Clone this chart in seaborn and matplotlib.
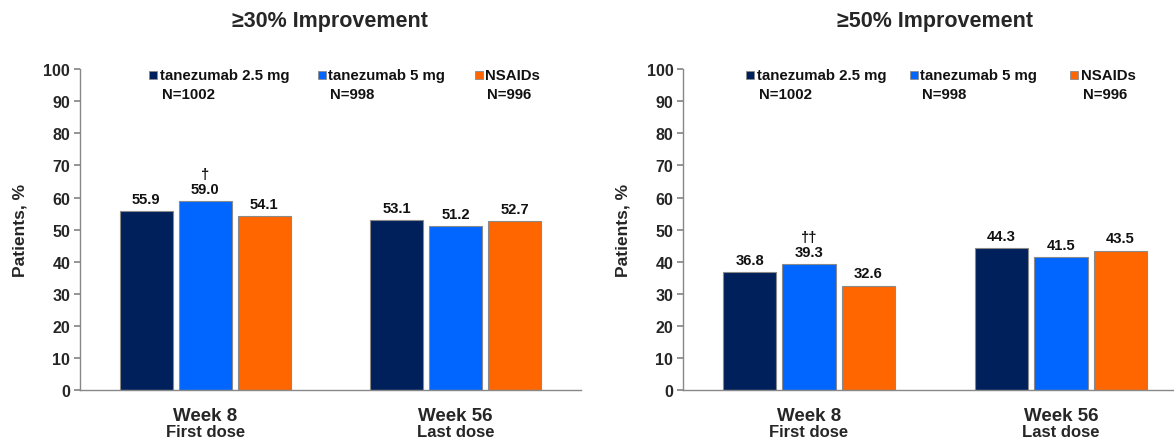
import pandas as pd
import numpy as np
import matplotlib
matplotlib.use('Agg')
import matplotlib.pyplot as plt
from matplotlib.patches import Rectangle
import seaborn as sns

sns.set_theme(style='white')
plt.rcParams['font.family'] = ['Liberation Sans', 'DejaVu Sans']

# data
groups = ['tanezumab 2.5 mg', 'tanezumab 5 mg', 'NSAIDs']
group_n = ['N=1002', 'N=998', 'N=996']
weeks = ['Week 8', 'Week 56']
week_sub = ['First dose', 'Last dose']
pct30 = [[55.9, 53.1], [59.0, 51.2], [54.1, 52.7]]
pct50 = [[36.8, 44.3], [39.3, 41.5], [32.6, 43.5]]
marks30 = [['', ''], ['\u2020', ''], ['', '']]
marks50 = [['', ''], ['\u2020\u2020', ''], ['', '']]
titles = ['\u226530% Improvement', '\u226550% Improvement']
colors = ['#00205B', '#0066FF', '#FF6600']


def make_df(vals):
    rows = []
    for g, gv in zip(groups, vals):
        for w, v in zip(weeks, gv):
            rows.append({'Group': g, 'Week': w, 'Pct': v})
    return pd.DataFrame(rows)


fig = plt.figure(figsize=(11.74, 4.39), dpi=100)
ax1 = fig.add_axes([0.0681, 0.109, 0.4268, 0.7312])
# right panel runs past the right edge, as in the reference crop
ax2 = fig.add_axes([0.5818, 0.109, 0.4293, 0.7312])

# legend x positions (axes fraction) for each panel
leg_x = {ax1: [0.138, 0.475, 0.788], ax2: [0.125, 0.450, 0.768]}

for ax, vals, marks in [(ax1, pct30, marks30), (ax2, pct50, marks50)]:
    df = make_df(vals)
    sns.barplot(data=df, x='Week', y='Pct', hue='Group', order=weeks, hue_order=groups,
                palette=colors, width=0.707, gap=0.1, edgecolor='#8a8a8a', linewidth=0.8,
                saturation=1, legend=False, ax=ax)

    # value labels
    for gi, cont in enumerate(ax.containers):
        for wi, bar in enumerate(cont):
            x = bar.get_x() + bar.get_width() / 2
            h = bar.get_height()
            ax.text(x, h + 1.6, f'{vals[gi][wi]:.1f}', ha='center', va='bottom',
                    fontsize=10.6, fontweight='bold', color='#111111')
            if marks[gi][wi]:
                ax.text(x, h + 6.3, marks[gi][wi], ha='center', va='bottom',
                        fontsize=10.6, fontweight='bold', color='#111111')

    ax.set_ylim(0, 100)
    ax.set_xlim(-0.5, 1.5)
    ax.set_yticks(np.arange(0, 101, 10))
    ax.set_yticklabels([str(v) for v in range(0, 101, 10)], fontsize=11.5, fontweight='bold')
    ax.set_ylabel('Patients, %', fontsize=12.5, fontweight='bold')
    ax.yaxis.set_label_coords(-0.105, 0.5)
    ax.set_xlabel('')
    ax.set_xticks([0.5, 1.5])
    ax.set_xticklabels([])
    ax.set_xticks([0, 1], minor=True)
    ax.set_xticklabels(weeks, minor=True, fontsize=13.5, fontweight='bold')
    ax.tick_params(axis='x', which='minor', length=0, pad=12)
    ax.tick_params(axis='x', which='major', length=4, direction='out', color='#888888')
    ax.tick_params(axis='y', length=4, direction='out', color='#888888', left=True, pad=3)
    for i, s in enumerate(week_sub):
        ax.text(i, -10.6, s, ha='center', va='top', fontsize=12, fontweight='bold')

    sns.despine(ax=ax)
    for sp in ['left', 'bottom']:
        ax.spines[sp].set_color('#888888')
        ax.spines[sp].set_linewidth(1.0)

    # legend: square + two-line label
    for lx, c, g, n in zip(leg_x[ax], colors, groups, group_n):
        ax.add_patch(Rectangle((lx, 0.970), 0.016, 0.024, transform=ax.transAxes,
                               facecolor=c, edgecolor='#8a8a8a', linewidth=0.6, clip_on=False))
        ax.text(lx + 0.021, 0.981, g, transform=ax.transAxes, ha='left', va='center',
                fontsize=10.8, fontweight='bold', color='#111111')
        ax.text(lx + 0.025, 0.922, n, transform=ax.transAxes, ha='left', va='center',
                fontsize=10.8, fontweight='bold', color='#111111')

fig.text(0.281, 0.952, titles[0], ha='center', va='center', fontsize=15.5, fontweight='bold')
fig.text(0.796, 0.952, titles[1], ha='center', va='center', fontsize=15.5, fontweight='bold')

fig.savefig('out.png', dpi=100)
